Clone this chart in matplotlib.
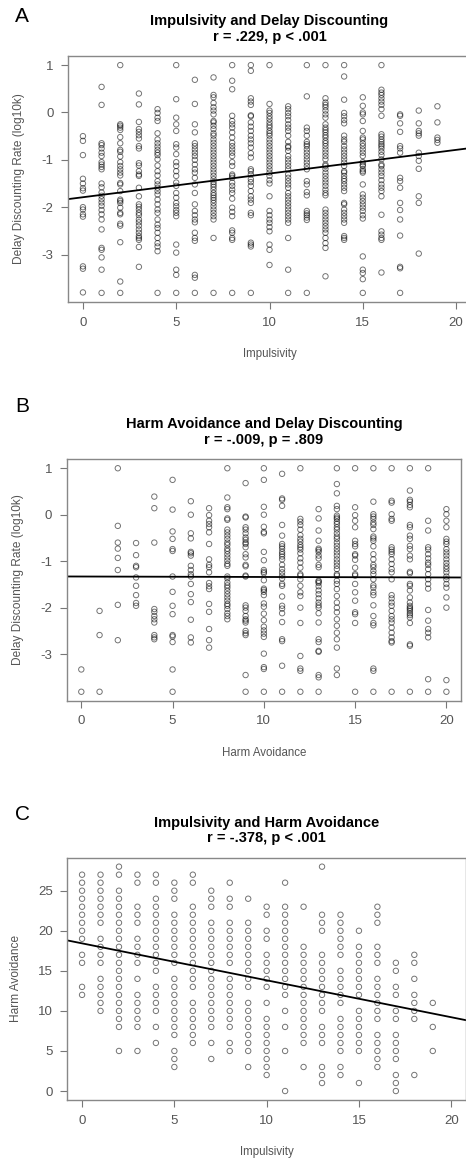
import numpy as np
import matplotlib.pyplot as plt

plt.rcParams['font.family'] = ['Liberation Sans', 'DejaVu Sans']
plt.rcParams['axes.unicode_minus'] = False

# Panel A: delay discounting (log10k) at each impulsivity score 0..19
impulsivity_levels = list(range(20))
delay_by_impulsivity = [
    [-0.5, -0.6, -0.9, -1.4, -1.5, -1.6, -1.65, -2.0, -2.05, -2.15, -2.2, -3.25, -3.3, -3.8],
    [0.54, 0.16, -0.65, -0.69, -0.76, -0.85, -0.92, -1.05, -1.10, -1.15, -1.20, -1.50, -1.58, -1.69,
     -1.76, -1.83, -1.90, -1.97, -2.06, -2.15, -2.26, -2.47, -2.86, -2.90, -3.06, -3.32, -3.81],
    [1.0, -0.25, -0.28, -0.32, -0.37, -0.52, -0.65, -0.79, -0.83, -0.93, -1.05, -1.13, -1.20, -1.27,
     -1.33, -1.49, -1.52, -1.66, -1.84, -1.87, -1.91, -2.01, -2.12, -2.15, -2.35, -2.39, -2.74, -3.57, -3.81],
    [0.40, 0.17, -0.20, -0.35, -0.41, -0.48, -0.55, -0.71, -0.76, -1.07, -1.12, -1.24, -1.31, -1.34,
     -1.59, -1.77, -1.94, -1.99, -2.05, -2.12, -2.17, -2.26, -2.32, -2.39, -2.47, -2.54, -2.61, -2.65,
     -2.69, -2.84, -3.26],
    [0.07, -0.01, -0.11, -0.18, -0.44, -0.57, -0.65, -0.72, -0.79, -0.85, -0.90, -0.99, -1.12, -1.24,
     -1.33, -1.45, -1.52, -1.59, -1.66, -1.73, -1.84, -1.94, -2.05, -2.12, -2.26, -2.37, -2.44, -2.54,
     -2.65, -2.76, -2.83, -2.93, -3.81],
    [1.0, 0.28, -0.11, -0.25, -0.39, -0.67, -0.74, -0.88, -1.05, -1.13, -1.24, -1.34, -1.48, -1.55,
     -1.70, -1.80, -1.91, -1.98, -2.06, -2.12, -2.19, -2.79, -2.96, -3.32, -3.43, -3.81],
    [0.69, 0.18, -0.25, -0.42, -0.65, -0.71, -0.78, -0.85, -0.92, -1.0, -1.10, -1.20, -1.27, -1.38,
     -1.52, -1.70, -1.94, -2.08, -2.17, -2.26, -2.32, -2.54, -2.65, -2.71, -3.43, -3.49, -3.81],
    [0.74, 0.37, 0.32, 0.20, 0.11, 0.04, -0.04, -0.18, -0.21, -0.28, -0.35, -0.44, -0.49, -0.57,
     -0.64, -0.71, -0.78, -0.85, -0.92, -0.99, -1.06, -1.13, -1.20, -1.27, -1.34, -1.41, -1.47, -1.52,
     -1.57, -1.63, -1.70, -1.75, -1.80, -1.85, -1.91, -1.98, -2.05, -2.12, -2.19, -2.26, -2.65, -3.81],
    [1.0, 0.67, 0.49, -0.07, -0.18, -0.25, -0.32, -0.42, -0.53, -0.64, -0.71, -0.78, -0.85, -0.92,
     -1.05, -1.13, -1.31, -1.34, -1.38, -1.48, -1.55, -1.63, -1.70, -1.82, -2.01, -2.10, -2.19, -2.49,
     -2.54, -2.65, -2.69, -3.81],
    [1.0, 0.88, 0.30, 0.23, 0.16, -0.06, -0.08, -0.21, -0.30, -0.39, -0.49, -0.57, -0.65, -0.74,
     -0.86, -0.95, -1.20, -1.24, -1.31, -1.41, -1.47, -1.55, -1.66, -1.77, -1.84, -1.91, -2.12, -2.17,
     -2.75, -2.79, -2.83, -3.81],
    [1.0, 0.18, 0.04, -0.01, -0.08, -0.14, -0.21, -0.27, -0.32, -0.39, -0.44, -0.49, -0.57, -0.64,
     -0.71, -0.78, -0.85, -0.92, -0.99, -1.06, -1.13, -1.20, -1.27, -1.34, -1.43, -1.50, -1.77, -2.08,
     -2.17, -2.26, -2.33, -2.42, -2.51, -2.79, -2.90, -3.22],
    [0.13, 0.07, -0.01, -0.08, -0.16, -0.25, -0.32, -0.39, -0.49, -0.62, -0.71, -0.74, -0.81, -0.92,
     -0.99, -1.06, -1.13, -1.20, -1.31, -1.38, -1.45, -1.52, -1.59, -1.70, -1.77, -1.84, -1.91, -1.98,
     -2.05, -2.12, -2.19, -2.26, -2.33, -2.65, -3.32, -3.81],
    [1.0, 0.34, -0.32, -0.39, -0.49, -0.62, -0.67, -0.71, -0.78, -0.85, -0.92, -0.99, -1.06, -1.13,
     -1.20, -1.45, -1.52, -1.68, -1.75, -2.08, -2.13, -2.17, -2.22, -2.27, -3.81],
    [1.0, 0.30, 0.21, 0.16, 0.11, 0.04, -0.04, -0.11, -0.25, -0.32, -0.37, -0.42, -0.48, -0.53,
     -0.60, -0.65, -0.71, -0.78, -0.85, -0.92, -0.99, -1.10, -1.13, -1.19, -1.27, -1.34, -1.41, -1.48,
     -1.55, -1.63, -1.70, -1.75, -2.05, -2.12, -2.19, -2.26, -2.33, -2.40, -2.47, -2.54, -2.65, -2.76,
     -2.86, -3.46],
    [1.0, 0.76, 0.27, -0.01, -0.08, -0.16, -0.23, -0.49, -0.57, -0.62, -0.71, -0.78, -0.85, -0.92,
     -0.99, -1.06, -1.13, -1.24, -1.27, -1.34, -1.40, -1.45, -1.52, -1.59, -1.66, -1.91, -1.94, -2.05,
     -2.12, -2.19, -2.26, -2.33, -2.61, -2.65, -2.69],
    [0.32, 0.14, 0.0, -0.04, -0.18, -0.39, -0.53, -0.57, -0.65, -0.71, -0.78, -0.85, -0.92, -1.05,
     -1.10, -1.13, -1.20, -1.24, -1.27, -1.52, -1.73, -1.80, -1.87, -1.94, -2.01, -2.08, -2.17, -2.24,
     -3.04, -3.32, -3.39, -3.52, -3.81],
    [1.0, 0.48, 0.42, 0.37, 0.30, 0.23, 0.16, 0.07, -0.07, -0.46, -0.51, -0.57, -0.62, -0.67, -0.71,
     -0.76, -0.83, -0.90, -0.99, -1.10, -1.13, -1.20, -1.27, -1.34, -1.43, -1.52, -1.59, -1.66, -1.77,
     -2.16, -2.51, -2.58, -2.65, -2.69, -3.38],
    [-0.04, -0.07, -0.23, -0.41, -0.71, -0.76, -0.85, -1.38, -1.45, -1.59, -1.91, -2.06, -2.26, -2.60,
     -3.26, -3.29, -3.81],
    [0.04, -0.23, -0.39, -0.44, -0.49, -0.85, -0.92, -1.02, -1.19, -1.77, -1.91, -2.98],
    [0.13, -0.21, -0.53, -0.58, -0.64],
]

# Panel B: delay discounting (log10k) at each harm avoidance score 0..20
harm_levels = list(range(21))
delay_by_harm = [
    [-3.33, -3.81],
    [-2.07, -2.59, -3.81],
    [1.0, -0.24, -0.60, -0.73, -0.93, -1.19, -1.94, -2.70],
    [-0.61, -0.87, -1.10, -1.13, -1.35, -1.53, -1.73, -1.90, -1.96],
    [0.39, 0.14, -0.60, -2.03, -2.09, -2.18, -2.25, -2.32, -2.59, -2.64, -2.68],
    [0.75, 0.11, -0.36, -0.52, -0.74, -0.78, -1.33, -1.66, -1.96, -2.14, -2.59, -2.62, -2.74, -3.33, -3.81],
    [0.29, 0.0, -0.40, -0.51, -0.80, -0.83, -0.88, -1.10, -1.19, -1.28, -1.33, -1.49, -1.71, -1.88,
     -2.26, -2.64, -2.75],
    [0.14, -0.01, -0.13, -0.20, -0.27, -0.38, -0.63, -0.96, -1.08, -1.13, -1.24, -1.47, -1.54, -1.60,
     -1.92, -2.09, -2.46, -2.70, -2.86],
    [1.0, 0.37, 0.16, 0.12, -0.08, -0.11, -0.32, -0.38, -0.45, -0.52, -0.60, -0.65, -0.73, -0.78,
     -0.85, -0.92, -0.99, -1.06, -1.10, -1.33, -1.37, -1.46, -1.52, -1.57, -1.64, -1.71, -1.78, -1.85,
     -1.92, -1.96, -2.03, -2.12, -2.18, -2.25],
    [0.68, -0.04, -0.06, -0.27, -0.32, -0.40, -0.49, -0.54, -0.60, -0.63, -0.70, -0.85, -0.92, -1.08,
     -1.11, -1.31, -1.33, -1.95, -2.00, -2.07, -2.18, -2.25, -2.28, -2.32, -2.50, -2.55, -2.59, -3.45, -3.81],
    [1.0, 0.75, 0.17, 0.0, -0.26, -0.37, -0.40, -0.80, -0.98, -1.19, -1.23, -1.26, -1.41, -1.59, -1.62,
     -1.66, -1.73, -1.91, -1.98, -2.13, -2.27, -2.41, -2.49, -2.56, -2.63, -2.99, -3.28, -3.32, -3.81],
    [0.88, 0.35, 0.32, 0.19, -0.22, -0.45, -0.63, -0.68, -0.73, -0.80, -0.85, -0.90, -0.96, -1.08,
     -1.17, -1.24, -1.31, -1.37, -1.49, -1.53, -1.76, -1.96, -2.02, -2.12, -2.31, -2.68, -2.72, -3.25, -3.81],
    [1.0, -0.09, -0.15, -0.22, -0.32, -0.44, -0.52, -0.58, -0.65, -0.70, -0.75, -0.83, -0.94, -1.03,
     -1.14, -1.28, -1.31, -1.39, -1.53, -1.67, -1.75, -2.00, -2.33, -3.04, -3.31, -3.36, -3.81],
    [0.12, -0.08, -0.34, -0.56, -0.73, -0.76, -0.80, -0.88, -0.94, -1.08, -1.13, -1.42, -1.44, -1.47,
     -1.54, -1.63, -1.71, -1.80, -1.89, -1.95, -2.00, -2.12, -2.32, -2.68, -2.74, -2.93, -2.95, -3.45,
     -3.50, -3.81],
    [1.0, 0.66, 0.46, 0.19, 0.12, -0.02, -0.06, -0.09, -0.15, -0.20, -0.27, -0.32, -0.40, -0.47,
     -0.52, -0.60, -0.67, -0.74, -0.81, -0.88, -0.96, -1.03, -1.10, -1.17, -1.28, -1.31, -1.42, -1.49,
     -1.60, -1.75, -1.89, -2.00, -2.10, -2.25, -2.39, -2.54, -2.68, -2.86, -3.31, -3.45],
    [1.0, 0.16, -0.01, -0.13, -0.27, -0.56, -0.63, -0.68, -0.85, -0.88, -0.97, -1.14, -1.28, -1.31,
     -1.49, -1.67, -1.85, -2.10, -2.14, -2.33, -3.81],
    [1.0, 0.28, 0.01, -0.04, -0.09, -0.17, -0.22, -0.31, -0.47, -0.51, -0.56, -0.68, -0.85, -0.96,
     -1.08, -1.13, -1.21, -1.28, -1.39, -1.52, -1.57, -1.67, -1.73, -1.95, -2.18, -2.33, -2.38, -3.31,
     -3.36, -3.81],
    [1.0, 0.30, 0.26, 0.01, -0.09, -0.13, -0.70, -0.75, -0.80, -0.85, -0.96, -1.06, -1.17, -1.24,
     -1.39, -1.73, -1.80, -1.89, -1.96, -2.07, -2.18, -2.25, -2.32, -2.43, -2.54, -2.64, -2.72, -2.75, -3.81],
    [1.0, 0.52, 0.32, 0.28, 0.21, 0.16, -0.22, -0.27, -0.45, -0.52, -0.67, -0.74, -0.88, -0.96, -1.23,
     -1.26, -1.49, -1.53, -1.63, -1.78, -1.89, -1.96, -2.00, -2.03, -2.07, -2.12, -2.16, -2.21, -2.33,
     -2.79, -2.82, -3.81],
    [1.0, -0.13, -0.34, -0.70, -0.75, -0.85, -0.94, -1.03, -1.08, -1.17, -1.28, -1.39, -1.49, -1.59,
     -2.05, -2.28, -2.46, -2.54, -2.64, -3.54, -3.81],
    [0.12, 0.01, -0.13, -0.27, -0.52, -0.58, -0.63, -0.74, -0.81, -0.88, -0.96, -1.04, -1.11, -1.17,
     -1.24, -1.33, -1.39, -1.49, -1.57, -1.78, -2.00, -3.56, -3.81],
]

# Panel C: harm avoidance at each impulsivity score 0..19
harm_by_impulsivity = [
    [27, 26, 25, 24, 23, 22, 21, 20, 19, 17, 16, 13, 12],
    [27, 26, 25, 24, 23, 22, 21, 19, 18, 17, 16, 14, 13, 12, 11, 10],
    [28, 27, 25, 24, 23, 22, 21, 20, 19, 18, 17, 16, 15, 14, 13, 12, 11, 10, 9, 8, 5],
    [27, 26, 23, 22, 21, 19, 18, 17, 16, 14, 12, 11, 10, 9, 8, 5],
    [27, 26, 24, 23, 22, 21, 20, 19, 18, 17, 16, 15, 13, 12, 11, 10, 8, 6],
    [26, 25, 24, 22, 21, 20, 19, 18, 17, 16, 14, 13, 12, 11, 10, 9, 8, 7, 5, 4, 3],
    [27, 26, 23, 22, 21, 20, 19, 18, 17, 16, 15, 14, 13, 11, 10, 9, 8, 7, 6],
    [25, 24, 23, 21, 20, 19, 18, 17, 16, 15, 14, 13, 12, 11, 10, 9, 8, 6, 4],
    [26, 24, 23, 21, 20, 19, 18, 17, 16, 14, 13, 12, 11, 10, 9, 8, 6, 5],
    [24, 21, 20, 19, 18, 17, 16, 15, 14, 13, 11, 10, 9, 8, 7, 6, 5, 3],
    [23, 22, 20, 19, 17, 16, 15, 14, 13, 11, 9, 8, 7, 6, 5, 4, 3, 2],
    [26, 23, 22, 21, 20, 19, 18, 17, 16, 15, 14, 13, 12, 10, 8, 5, 0],
    [23, 18, 17, 16, 15, 14, 13, 12, 11, 10, 9, 8, 7, 6, 3],
    [28, 22, 21, 20, 17, 16, 15, 14, 13, 12, 11, 10, 8, 7, 6, 3, 2, 1],
    [22, 21, 20, 19, 18, 17, 15, 14, 13, 12, 11, 9, 8, 7, 6, 5, 3, 2],
    [20, 18, 17, 16, 15, 14, 13, 12, 10, 9, 8, 7, 6, 5, 1],
    [23, 22, 21, 18, 17, 16, 14, 13, 12, 11, 10, 9, 7, 6, 5, 4, 3],
    [16, 15, 13, 12, 10, 9, 7, 6, 5, 4, 2, 1, 0],
    [17, 16, 14, 12, 11, 10, 9, 2],
    [11, 8, 5],
]

# regression lines (intercept, slope) as drawn in the figure
fit_a = (-1.79, 0.050)
fit_b = (-1.33, -0.001)
fit_c = (18.43, -0.461)

titles = ['Impulsivity and Delay Discounting\nr = .229, p < .001',
          'Harm Avoidance and Delay Discounting\nr = -.009, p = .809',
          'Impulsivity and Harm Avoidance\nr = -.378, p < .001']
xlabels = ['Impulsivity', 'Harm Avoidance', 'Impulsivity']
ylabels = ['Delay Discounting Rate (log10k)', 'Delay Discounting Rate (log10k)', 'Harm Avoidance']
letters = ['A', 'B', 'C']

W, H = 466, 1163
# axes boxes in pixels: left, top, right, bottom
boxes = [(68, 56, 471, 302), (66.7, 459.3, 461, 700.7), (67.3, 857.7, 466, 1100)]
letter_y = [16, 406, 815]

fig = plt.figure(figsize=(W / 100, H / 100), dpi=100)
grey = '#555555'

panels = [(impulsivity_levels, delay_by_impulsivity, fit_a, [-3, -2, -1, 0, 1]),
          (harm_levels, delay_by_harm, fit_b, [-3, -2, -1, 0, 1]),
          (impulsivity_levels, harm_by_impulsivity, fit_c, [0, 5, 10, 15, 20, 25])]

for i, (levels, cols, fit, yt) in enumerate(panels):
    l, t, r, b = boxes[i]
    ax = fig.add_axes([l / W, 1 - b / H, (r - l) / W, (b - t) / H])
    xs = np.repeat(levels, [len(c) for c in cols])
    ys = np.concatenate([np.array(c, dtype=float) for c in cols])
    ax.scatter(xs, ys, s=15, facecolors='none', edgecolors='black', linewidths=0.7, alpha=0.55)
    ax.axline((0, fit[0]), slope=fit[1], color='black', lw=1.3)

    lo, hi = ys.min(), ys.max()
    pad = 0.04 * (hi - lo)
    ax.set_ylim(lo - pad, hi + pad)
    ax.set_xlim(-0.8, 20.8)
    ax.set_xticks([0, 5, 10, 15, 20])
    ax.set_yticks(yt)
    ax.tick_params(direction='out', length=5, width=0.8, colors='#777777',
                   labelcolor=grey, labelsize=9.5, pad=5.5)
    for s in ax.spines.values():
        s.set_color('#888888')
        s.set_linewidth(1.0)

    ax.set_title(titles[i], fontsize=10.5, fontweight='bold', pad=11, linespacing=1.15)
    ax.set_xlabel(xlabels[i], fontsize=8.3, color=grey, labelpad=14)
    ax.set_ylabel(ylabels[i], fontsize=8.6, color=grey, labelpad=11.5)
    fig.text(15 / W, 1 - letter_y[i] / H, letters[i], fontsize=15, va='center', ha='left')

fig.savefig('out.png', dpi=100)
